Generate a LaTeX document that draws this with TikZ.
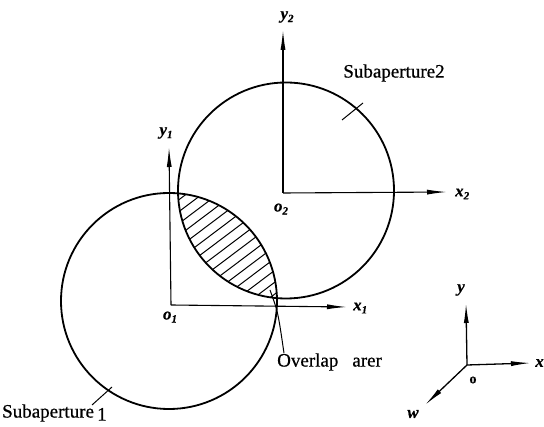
\documentclass[tikz,border=0pt]{standalone}
\usepackage{fontspec}
\setmainfont{Liberation Serif}[FakeBold=0.6]
\usetikzlibrary{arrows.meta}
\begin{document}
\begin{tikzpicture}[x=1pt,y=-1pt,
  circ/.style={line width=1.8pt},
  axisline/.style={line width=1.1pt,-{Latex[length=20pt,width=5pt]}},
  thin/.style={line width=1pt},
  lbl/.style={font=\fontsize{19}{22}\selectfont, inner sep=0pt},
  axl/.style={font=\fontsize{17}{20}\selectfont\itshape\bfseries, inner sep=0pt},
]
\useasboundingbox (0,0) rectangle (544,427);
% circles
\coordinate (C1) at (169,301);
\coordinate (C2) at (286,190.5);
\draw[circ] (C1) circle[radius=108];
\draw[circ] (C2) circle[radius=108];
% hatching of the overlap
\begin{scope}
  \clip (C1) circle[radius=108];
  \clip (C2) circle[radius=108];
  \foreach \i in {-9,...,9}
    \draw[thin] ([shift={(\i*5.72,\i*7.59)}]164.1,294.2) -- ++(127.8,-96.3);
\end{scope}
% axes of subaperture 2
\coordinate (O2) at (283,193);
\coordinate (Y2) at (283,30);
\coordinate (X2) at (447,192);
\draw[axisline] (O2) -- (Y2);
\draw[axisline] (O2) -- (X2);
\node[axl] (y2) at (287,17) {y\raisebox{-3pt}{\fontsize{11}{12}\selectfont 2}};
\node[axl,anchor=west] (x2) at (455,194) {x\raisebox{-3pt}{\fontsize{11}{12}\selectfont 2}};
\node[axl] (o2) at (281,209) {o\raisebox{-3pt}{\fontsize{11}{12}\selectfont 2}};
% axes of subaperture 1
\coordinate (O1) at (171,305);
\coordinate (Y1) at (169,147);
\coordinate (X1) at (347,307);
\draw[axisline] (O1) -- (Y1);
\draw[axisline] (O1) -- (X1);
\node[axl] (y1) at (166,133) {y\raisebox{-3pt}{\fontsize{11}{12}\selectfont 1}};
\node[axl,anchor=west] (x1) at (353,308) {x\raisebox{-3pt}{\fontsize{11}{12}\selectfont 1}};
\node[axl] (o1) at (170,317) {o\raisebox{-3pt}{\fontsize{11}{12}\selectfont 1}};
% labels and leaders
\node[lbl] (s2) at (394,73) {Subaperture2};
\coordinate (t2a) at (342,120);
\coordinate (t2b) at (363,103);
\draw[thin] (t2a) -- (t2b);
\node[lbl,anchor=west] (s1) at (2,413) {Subaperture\,\raisebox{-3pt}{1}};
\coordinate (t1a) at (92,405);
\coordinate (t1b) at (112,387);
\draw[thin] (t1a) -- (t1b);
\node[lbl,anchor=west] (ov) at (277,362) {Overlap\hspace{14pt}arer};
\coordinate (ovs) at (270,290);
\draw[thin] (ovs) .. controls (278,312) .. ([xshift=7pt]ov.north west);
% reference frame
\coordinate (O) at (467,365);
\coordinate (Y) at (466,303);
\coordinate (X) at (531,363);
\coordinate (W) at (425,405);
\draw[axisline,line width=1.3pt] (O) -- (Y);
\draw[axisline,line width=1.3pt] (O) -- (X);
\draw[axisline,line width=1.3pt] (O) -- (W);
\node[axl] (yl) at (461,290) {y};
\node[axl,anchor=east] (xl) at (544,363) {x};
\node[font=\fontsize{14}{16}\selectfont\bfseries,inner sep=0pt] (ol) at (473,380) {o};
\node[axl] (wl) at (413,414) {w};
\end{tikzpicture}
\end{document}
